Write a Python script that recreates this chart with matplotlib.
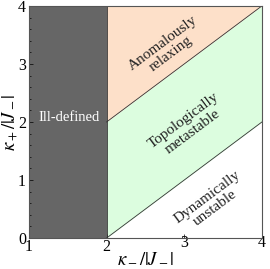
import matplotlib
matplotlib.use("Agg")
import matplotlib.pyplot as plt
import matplotlib.transforms as mtransforms
import numpy as np
from matplotlib.ticker import MultipleLocator

plt.rcParams["font.family"] = "Liberation Serif"
plt.rcParams["mathtext.fontset"] = "stix"

# phase boundaries: kappa_+ = kappa_- (upper), kappa_+ = kappa_- - 2 (lower)
kminus = np.array([2.0, 4.0])
upper = np.array([2.0, 4.0])
lower = np.array([0.0, 2.0])
xlim = (1, 4)
ylim = (0, 4)
xticks = [1, 2, 3, 4]
yticks = [0, 1, 2, 3, 4]

regions = ["Ill-defined", "Anomalously\nrelaxing", "Topologically\nmetastable", "Dynamically\nunstable"]
label_pos = [(1.52, 2.07), (2.78, 3.27), (3.05, 1.93), (3.35, 0.62)]

c_gray = "#666666"
c_orange = "#fde0c9"
c_green = "#dcfddf"


def main():
    fig = plt.figure(figsize=(2.7, 2.69), dpi=100)
    ax = fig.add_axes([0.107, 0.115, 0.863, 0.863])

    ax.axvspan(xlim[0], 2, color=c_gray, lw=0)
    ax.fill_between(kminus, upper, ylim[1], color=c_orange, lw=0)
    ax.fill_between(kminus, lower, upper, color=c_green, lw=0)
    ax.plot(kminus, upper, color="#333333", lw=0.6)
    ax.plot(kminus, lower, color="#333333", lw=0.6)
    ax.axvline(2, color="#333333", lw=0.6)

    ax.set_xlim(*xlim)
    ax.set_ylim(*ylim)
    ax.set_xticks(xticks)
    ax.set_yticks(yticks)
    ax.yaxis.set_minor_locator(MultipleLocator(0.2))
    ax.tick_params(direction="in", labelsize=11.5, length=3, width=0.5, pad=1)
    ax.tick_params(axis="y", pad=2)
    ax.tick_params(which="minor", direction="in", length=1.5, width=0.5)
    for s in ax.spines.values():
        s.set_linewidth(0.8)
        s.set_color("#555555")

    # labels 3 and 4 sit a bit higher in the original
    for lab in ax.get_xticklabels()[2:]:
        lab.set_transform(lab.get_transform() + mtransforms.ScaledTranslation(0, 3 / 72, fig.dpi_scale_trans))

    ax.set_xlabel(r"$\kappa_-/|J_-|$", fontsize=13.5, labelpad=-4)
    ax.set_ylabel(r"$\kappa_+/|J_-|$", fontsize=13.5, labelpad=-1)

    # text rotation follows the boundary slope on screen
    p0 = ax.transData.transform((kminus[0], upper[0]))
    p1 = ax.transData.transform((kminus[1], upper[1]))
    ang = np.degrees(np.arctan2(p1[1] - p0[1], p1[0] - p0[0]))

    for i, (txt, (x, y)) in enumerate(zip(regions, label_pos)):
        if i == 0:
            ax.text(x, y, txt, color="white", fontsize=10.5, ha="center", va="center")
        else:
            ax.text(x, y, txt, color="#222222", fontsize=11, ha="center", va="center",
                    rotation=ang, rotation_mode="anchor", linespacing=1.05)

    fig.savefig("out.png", dpi=100)


if __name__ == "__main__":
    main()
